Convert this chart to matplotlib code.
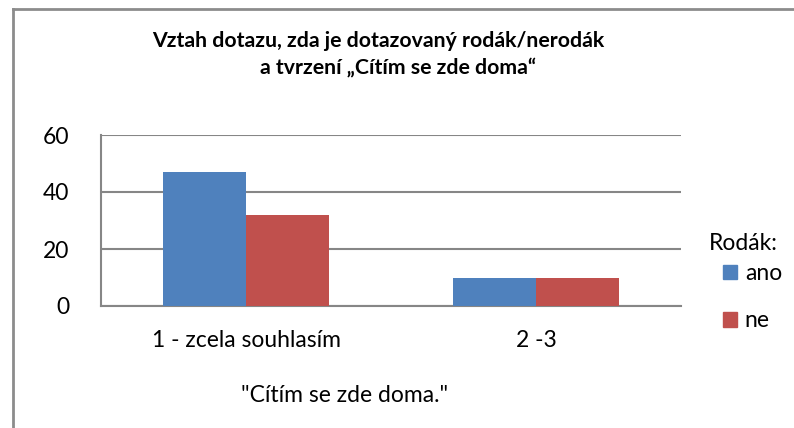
import numpy as np
import matplotlib
import matplotlib.pyplot as plt
from matplotlib.lines import Line2D
from matplotlib.patches import Rectangle

plt.rcParams['font.family'] = ['Lato', 'DejaVu Sans']

categories = ["1 - zcela souhlasím", "2 -3"]
ano = [47, 10]
ne = [32, 10]
series_names = ["ano", "ne"]
yticks = [0, 20, 40, 60]

W, H = 794, 428
fig = plt.figure(figsize=(W / 100, H / 100), dpi=100)

# plot area (pixel coords converted to figure fractions)
ax = fig.add_axes([101 / W, 1 - 306 / H, (681 - 101) / W, (306 - 135) / H])

grid_c = "#868686"
fs = 16.5
x = np.arange(len(categories))
bw = 1 / 3.5
ax.bar(x - bw / 2, ano, bw, color="#4F81BD", zorder=3)
ax.bar(x + bw / 2, ne, bw, color="#C0504D", zorder=3)

ax.set_xlim(-0.5, len(categories) - 0.5)
ax.set_ylim(0, 60)
ax.set_yticks(yticks)
ax.set_xticks(x)
ax.set_xticklabels(categories)
ax.tick_params(axis="both", length=0, labelsize=fs, colors="black")
ax.tick_params(axis="y", pad=23)
ax.tick_params(axis="x", pad=17)
ax.yaxis.grid(True, color=grid_c, linewidth=1.5, zorder=0)
for s in ["top", "right"]:
    ax.spines[s].set_visible(False)
for s in ["left", "bottom"]:
    ax.spines[s].set_color(grid_c)
    ax.spines[s].set_linewidth(1.5)

# titles
fig.text(378 / W, 1 - 41 / H, "Vztah dotazu, zda je dotazovaný rodák/nerodák",
         ha="center", va="center", fontsize=15.3, fontweight="bold")
fig.text(398 / W, 1 - 68 / H, "a tvrzení „Cítím se zde doma“",
         ha="center", va="center", fontsize=15.3, fontweight="bold")
fig.text(345 / W, 1 - 396 / H, '"Cítím se zde doma."',
         ha="center", va="center", fontsize=fs)

# legend
fig.text(743 / W, 1 - 243 / H, "Rodák:", ha="center", va="center", fontsize=fs)
handles = [Rectangle((0, 0), 1, 1, color="#4F81BD"), Rectangle((0, 0), 1, 1, color="#C0504D")]
fig.legend(handles, series_names, loc="upper left", bbox_to_anchor=(723 / W, 1 - 263 / H),
           frameon=False, fontsize=fs, handlelength=0.6, handleheight=0.6,
           handletextpad=0.35, labelspacing=1.15, borderpad=0, borderaxespad=0)

# outer chart border
fig.add_artist(Line2D([13 / W, 13 / W], [0, 1 - 9 / H], color="#8c8c8c", linewidth=2))
fig.add_artist(Line2D([13 / W, 1], [1 - 9 / H, 1 - 9 / H], color="#8c8c8c", linewidth=2))

fig.savefig("out.png", dpi=100)
